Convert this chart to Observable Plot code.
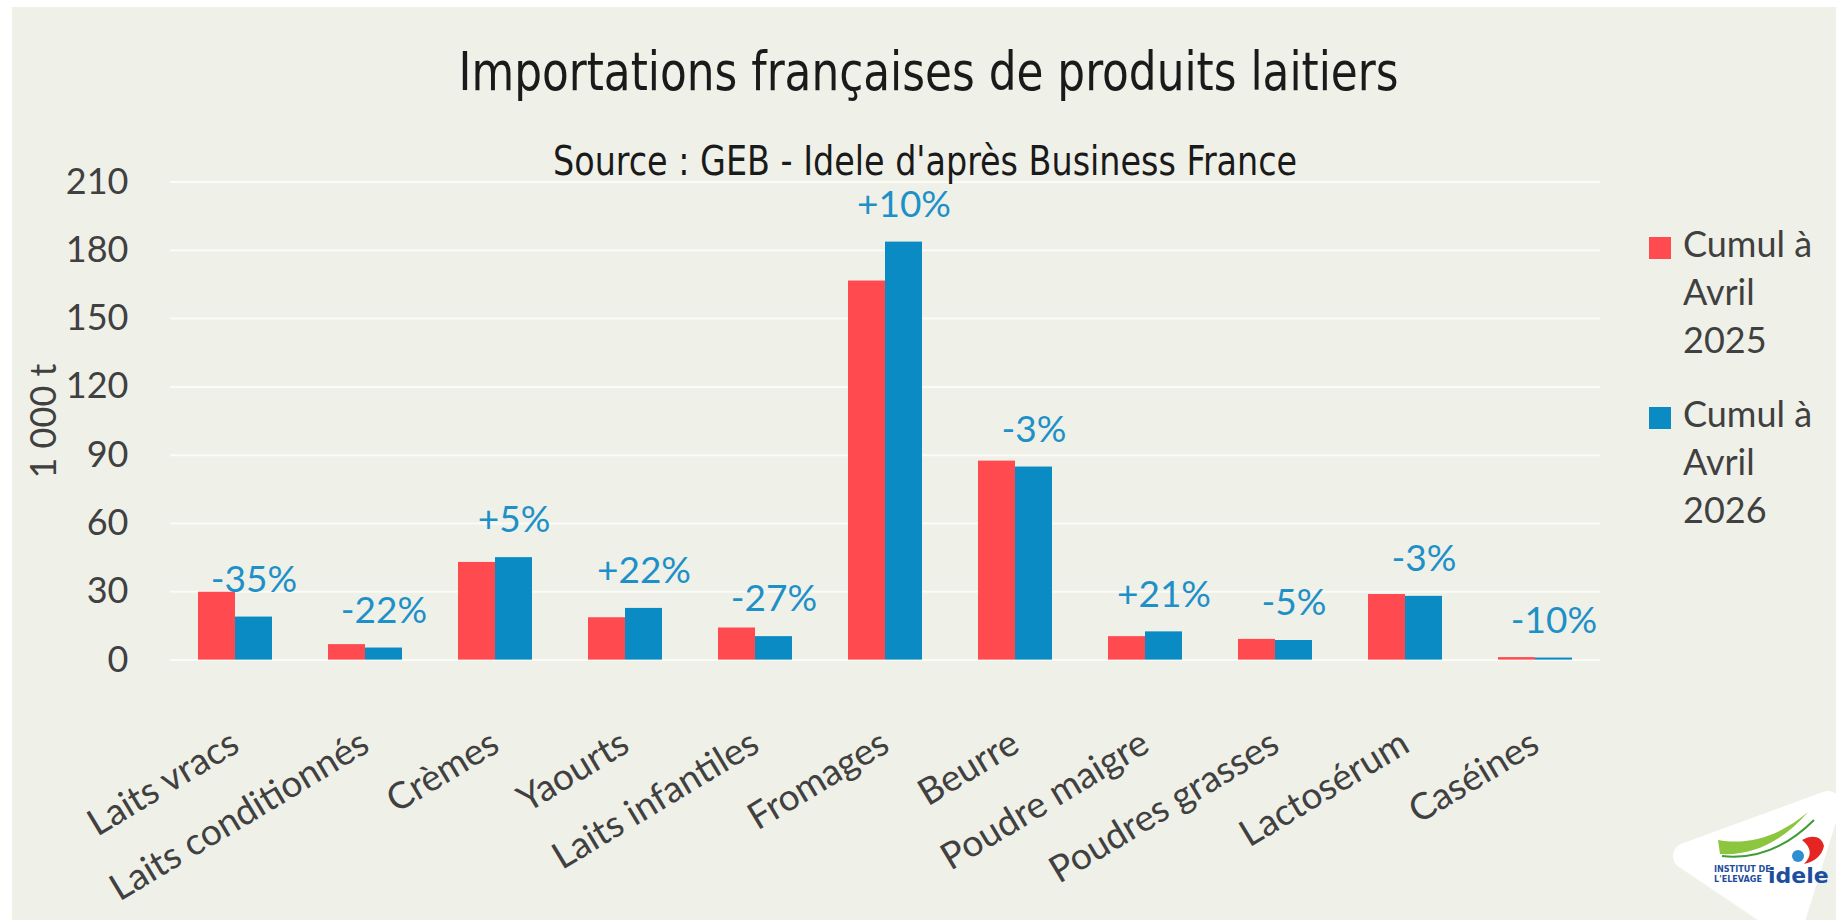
<!DOCTYPE html>
<html>
<head>
<meta charset="utf-8">
<script src="https://cdn.jsdelivr.net/npm/d3@7"></script>
<script src="https://cdn.jsdelivr.net/npm/@observablehq/plot@0.6"></script>
<style>
  html, body { margin: 0; padding: 0; background: #ffffff; }
  #page { position: relative; width: 1836px; height: 920px; overflow: hidden; background: #ffffff; }
  #bg { position: absolute; left: 12px; top: 7px; right: 0; bottom: 0; background: #EFF0E8; }
  #chart { position: absolute; left: 0; top: 0; }
  .ttl { position: absolute; white-space: nowrap; line-height: 1; transform-origin: center top; color: #1a1a1a;
         font-family: "Liberation Sans Narrow", "DejaVu Sans Condensed", "Roboto", sans-serif; }
  #title { font-size: 54px; top: 45px; }
  #subtitle { font-size: 40px; top: 141px; }
  .leg { position: absolute; left: 1649px; font-family: Lato, sans-serif; font-size: 36px; line-height: 48px; color: #404040; }
  .leg .sw { position: absolute; left: 0; width: 22px; height: 22px; }
  .leg .tx { position: absolute; left: 34px; top: 0; white-space: nowrap; }
  #logo { position: absolute; left: 1662px; top: 790px; }
</style>
</head>
<body>
<div id="page">
  <div id="bg"></div>
  <div id="chart"></div>
  <div id="title" class="ttl">Importations françaises de produits laitiers</div>
  <div id="subtitle" class="ttl">Source : GEB - Idele d'après Business France</div>
  <div id="legend"></div>
  <svg id="logo" width="176" height="140" viewBox="0 0 176 140">
    <path d="M24 66 L166 14 L128 136 Z" fill="#ffffff" stroke="#ffffff" stroke-width="26" stroke-linejoin="round"/>
    <path d="M56 50 C90 56 120 44 146 22 C122 50 92 66 58 64 Z" fill="#8CC63F"/>
    <path d="M60 66 C96 70 126 56 152 30" fill="none" stroke="#3F9B35" stroke-width="2"/>
    <path d="M140 50 C150 44 160 46 162 56 C160 66 152 72 142 74 C150 66 150 58 140 50 Z" fill="#E52521"/>
    <circle cx="136" cy="66" r="6" fill="#2E8FD0"/>
    <text x="52" y="82" font-family="DejaVu Sans Condensed, sans-serif" font-weight="bold" font-size="9" fill="#1D4E9E">INSTITUT DE</text>
    <text x="52" y="92" font-family="DejaVu Sans Condensed, sans-serif" font-weight="bold" font-size="9" fill="#1D4E9E">L'ELEVAGE</text>
    <text x="106" y="93" font-family="DejaVu Sans, sans-serif" font-weight="bold" font-size="22" fill="#1D4E9E">idele</text>
  </svg>
</div>
<script>
// ---- Data ----
const categories = ["Laits vracs", "Laits conditionnés", "Crèmes", "Yaourts", "Laits infantiles", "Fromages", "Beurre", "Poudre maigre", "Poudres grasses", "Lactosérum", "Caséines"];
const series = ["Cumul à Avril 2025", "Cumul à Avril 2026"];
const values2025 = [29.8, 6.8, 42.9, 18.6, 14.1, 166.5, 87.4, 10.3, 9.1, 28.8, 1.1];
const values2026 = [18.9, 5.3, 45.0, 22.7, 10.3, 183.6, 84.8, 12.4, 8.6, 28.0, 0.9];
const changes = ["-35%", "-22%", "+5%", "+22%", "-27%", "+10%", "-3%", "+21%", "-5%", "-3%", "-10%"];
const yTicks = [0, 30, 60, 90, 120, 150, 180, 210];
const seriesColors = ["#FF4A4F", "#0A8BC3"];
const labelColor = "#1E90C8";

// ---- Tables ----
const bars = [];
categories.forEach((c, i) => {
  bars.push({category: c, series: series[0], value: values2025[i]});
  bars.push({category: c, series: series[1], value: values2026[i]});
});
const labels = categories.map((c, i) => ({category: c, series: series[1], value: values2026[i], change: changes[i]}));

const chart = Plot.plot({
  width: 1836,
  height: 920,
  marginLeft: 166,
  marginRight: 232,
  marginTop: 181.5,
  marginBottom: 260.4,
  style: {background: "transparent", fontFamily: "Lato, sans-serif", color: "#404040", overflow: "visible"},
  fx: {domain: categories, padding: 0, axis: null},
  x: {domain: series, paddingInner: 0, paddingOuter: 0.72, axis: null},
  y: {domain: [0, 210], axis: null},
  color: {domain: series, range: seriesColors},
  marks: [
    Plot.gridY(yTicks, {stroke: "#fbfbf7", strokeOpacity: 1, strokeWidth: 2}),
    Plot.ruleY([0], {stroke: "#fbfbf7", strokeWidth: 2}),
    Plot.barY(bars, {fx: "category", x: "series", y: "value", fill: "series"}),
    Plot.text(labels, {fx: "category", x: "series", y: "value", text: "change", dy: -37, fill: labelColor, fontSize: 37}),
    Plot.axisY(yTicks, {tickSize: 0, tickPadding: 42, fontSize: 36, label: "1 000 t", labelAnchor: "center", labelArrow: "none", labelOffset: 140}),
    Plot.axisFx({anchor: "bottom", tickRotate: -31, tickSize: 0, tickPadding: 80, dx: 0, fontSize: 37, label: null})
  ]
});
document.getElementById("chart").appendChild(chart);

// ---- Legend ----
const legend = document.getElementById("legend");
const legTops = [219, 389];
series.forEach((s, i) => {
  const d = document.createElement("div");
  d.className = "leg";
  d.style.top = legTops[i] + "px";
  const parts = s.split(" ");
  const lines = [parts[0] + " " + parts[1], parts[2], parts[3]];
  d.innerHTML = `<div class="sw" style="top:18px;background:${seriesColors[i]}"></div><div class="tx">${lines.join("<br>")}</div>`;
  legend.appendChild(d);
});

// ---- Title fit ----
function fit(id, cx, target) {
  const el = document.getElementById(id);
  el.style.transform = "none";
  el.style.left = "0px";
  const w = el.getBoundingClientRect().width;
  const s = target / w;
  el.style.left = (cx - w / 2) + "px";
  el.style.transform = `scaleX(${s})`;
}
function fitAll() { fit("title", 929, 940); fit("subtitle", 925, 744); }
fitAll();
if (document.fonts && document.fonts.ready) document.fonts.ready.then(fitAll);
</script>
</body>
</html>
